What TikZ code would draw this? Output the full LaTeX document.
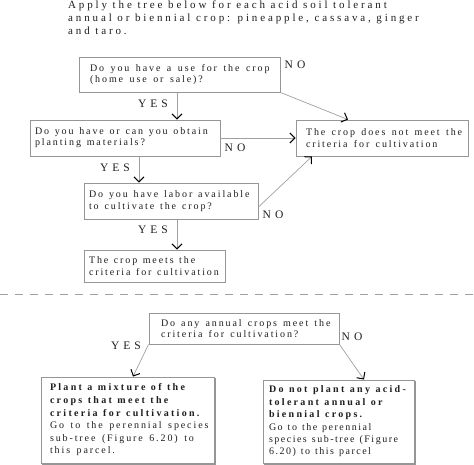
\documentclass[tikz,border=0pt]{standalone}
\usepackage{fontspec}
\setmainfont{Liberation Serif}
\newfontfamily\titf{Liberation Serif}[LetterSpace=26]
\newfontfamily\regf{Liberation Serif}[LetterSpace=19]
\newfontfamily\regn{Liberation Serif}[LetterSpace=15]
\newfontfamily\boldf{Liberation Serif}[LetterSpace=23]
\newfontfamily\labf{Liberation Serif}[LetterSpace=35]
\usetikzlibrary{arrows.meta,calc}
\definecolor{boxgray}{RGB}{150,150,150}
\definecolor{linegray}{RGB}{160,160,160}
\definecolor{txt}{RGB}{30,30,30}
\newlength\wsp
\setlength\wsp{6pt}
\newcommand{\mb}[1]{\mbox{\spaceskip=\wsp\relax #1}}
\newcommand{\bb}[1]{\mbox{\boldf\bfseries\spaceskip=5.5pt\relax #1}}
\begin{document}
\begin{tikzpicture}[x=1pt,y=-1pt,
  box/.style={draw=boxgray,line width=0.9pt,fill=white,align=left,inner ysep=1pt,font=\regf\fontsize{10}{11.2}\selectfont\setlength\wsp{#1},text=txt},
  box/.default=6pt,
  bbox/.style={box,font=\regf\fontsize{10}{12.6}\selectfont\setlength\wsp{#1}},
  bboxn/.style={box,font=\regn\fontsize{10}{12.4}\selectfont\setlength\wsp{#1}},
  arr/.style={draw=linegray,line width=0.7pt,-{Straight Barb[length=5pt,width=10pt,line width=1pt,color=black]}},
  lab/.style={font=\labf\fontsize{11.5}{12}\selectfont,text=txt,inner sep=0pt},
  shadow/.style={draw=boxgray,line width=2pt}]
\useasboundingbox (0,0) rectangle (474,465);
\fill[white] (0,0) rectangle (474,465);
\node[anchor=north west,align=left,inner sep=0pt,font=\titf\fontsize{11}{13}\selectfont,text=txt] (title) at (68,1)
 {\mbox{Apply the tree below for each acid soil tolerant}\\\mbox{annual or biennial crop: pineapple, cassava, ginger}\\\mbox{and taro.}};
\node[box=6.5pt,minimum width=201pt,minimum height=35pt,text width=179pt,inner xsep=11pt] (b1) at (179.5,74.5)
 {\mb{Do you have a use for the crop}\\\mb{(home use or sale)?}};
\node[box=5.7pt,minimum width=190pt,minimum height=36pt,text width=180pt,inner xsep=5pt] (b2) at (125,138)
 {\mb{Do you have or can you obtain}\\\mb{planting materials?}};
\node[box=6.3pt,minimum width=172pt,minimum height=36pt,text width=152pt,inner xsep=10pt] (b3) at (382,138)
 {\mb{The crop does not meet the}\\\mb{criteria for cultivation}};
\node[box=5.9pt,minimum width=174pt,minimum height=36pt,text width=164pt,inner xsep=5pt] (b4) at (171,201)
 {\mb{Do you have labor available}\\\mb{to cultivate the crop?}};
\node[box=5.5pt,minimum width=141pt,minimum height=32pt,text width=131pt,inner xsep=5pt] (b5) at (154.5,266)
 {\mb{The crop meets the}\\\mb{criteria for cultivation}};
\draw[linegray,line width=0.9pt,dash pattern=on 8pt off 7pt] (0,294) -- (474,294);
\node[box=6.1pt,minimum width=190pt,minimum height=31pt,text width=166pt,inner xsep=12pt] (b6) at (244,328.5)
 {\mb{Do any annual crops meet the}\\\mb{criteria for cultivation?}};
\draw[shadow] (42,464) -- (215,464) -- (215,378);
\node[bbox=6.5pt,minimum width=173pt,minimum height=86pt,text width=155pt,inner xsep=9pt] (b7) at (127.5,420)
 {\bb{Plant a mixture of the}\\\bb{crops that meet the}\\\bb{criteria for cultivation.}\\\mb{Go to the perennial species}\\\mb{sub-tree (Figure 6.20) to}\\\mb{this parcel.}};
\draw[shadow] (264,464) -- (415,464) -- (415,381);
\node[bboxn=5pt,minimum width=151pt,minimum height=83pt,text width=139pt,inner xsep=6pt] (b8) at (338.5,421.5)
 {\bb{Do not plant any acid-}\\\bb{tolerant annual or}\\\bb{biennial crops.}\\\mb{Go to the perennial}\\\mb{species sub-tree (Figure}\\\mb{6.20) to this parcel}};
% connectors
\draw[arr] ([xshift=-2.5pt]b1.south) -- ([xshift=-2.5pt]b1.south |- b2.north);
\draw[arr] (b1.south east) -- ([xshift=-34pt]b3.north);
\draw[arr] (b2.east) -- (b3.west);
\draw[arr] ([xshift=14pt]b2.south) -- ([xshift=14pt]b2.south |- b4.north);
\draw[arr] ([yshift=-6pt]b4.east) -- ([xshift=-70pt]b3.south);
\draw[arr] ([xshift=6pt]b4.south) -- ([xshift=6pt]b4.south |- b5.north);
\draw[arr] (b6.south west) -- ([xshift=5.5pt]b7.north);
\draw[arr] (b6.south east) -- ([xshift=25.5pt]b8.north);
% labels
\node[lab] (no1) at (295,65) {NO};
\node[lab] (yes1) at (153,104) {YES};
\node[lab] (no2) at (235,148) {NO};
\node[lab] (yes2) at (115,168) {YES};
\node[lab] (no3) at (273,215) {NO};
\node[lab] (yes3) at (153,230) {YES};
\node[lab] (yes4) at (126,346) {YES};
\node[lab] (no4) at (352,337) {NO};
\end{tikzpicture}
\end{document}
